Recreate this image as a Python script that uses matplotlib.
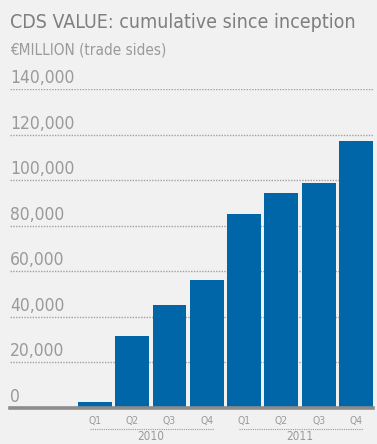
import numpy as np
import matplotlib.pyplot as plt

quarters = ["Q1", "Q2", "Q3", "Q4", "Q1", "Q2", "Q3", "Q4"]
years = ["2010", "2011"]
values = [2600, 31600, 45200, 56100, 85100, 94300, 98700, 117100]
yticks = [0, 20000, 40000, 60000, 80000, 100000, 120000, 140000]

bg = "#f1f1f1"
blue = "#0066a8"
grey = "#8c8c8c"
plt.rcParams["font.family"] = ["DejaVu Sans"]
plt.rcParams["font.stretch"] = "condensed"

fig = plt.figure(figsize=(3.77, 4.44), dpi=100, facecolor=bg)
ax = fig.add_axes([0.0265, 0.081, 0.9625, 0.7185], facecolor=bg)

x = np.arange(len(values))
ax.bar(x, values, width=0.91, color=blue, edgecolor="none")
ax.set_xlim(-2.28, 7.455)
ax.set_ylim(0, 140000)

for t in yticks[1:]:
    ax.axhline(t, color="#a0a0a0", lw=1.0, ls=(0, (1, 1)), zorder=0)
for t in yticks:
    ax.annotate(f"{t:,}", xy=(0, t), xycoords=("axes fraction", "data"),
                xytext=(0, 1.5), textcoords="offset points",
                fontsize=12.5, color="#9a9a9a", va="bottom", ha="left")
ax.axhline(0, color=grey, lw=2.6, zorder=3, clip_on=False)

for s in ax.spines.values():
    s.set_visible(False)
ax.set_xticks([])
ax.set_yticks([])

for i, q in enumerate(quarters):
    ax.annotate(q, xy=(x[i], 0), xycoords="data", xytext=(0, -9.5),
                textcoords="offset points", ha="center", va="center",
                fontsize=7.5, color="#9a9a9a")
for j, yr in enumerate(years):
    lo, hi = x[4 * j], x[4 * j + 3]
    ax.plot([lo - 0.13, hi + 0.2], [-9200, -9200], color="#9a9a9a",
            lw=0.8, ls=(0, (1, 1)), clip_on=False)
    ax.text((lo + hi) / 2, -12700, yr, ha="center", va="center",
            fontsize=8.5, color="#9a9a9a")

fig.text(0.0265, 0.95, "CDS VALUE: cumulative since inception",
         fontsize=14, color="#7f7f7f", ha="left", va="center")
fig.text(0.0265, 0.888, "€MILLION (trade sides)",
         fontsize=11, color="#9a9a9a", ha="left", va="center")

fig.savefig("out.png", dpi=100, facecolor=bg)
